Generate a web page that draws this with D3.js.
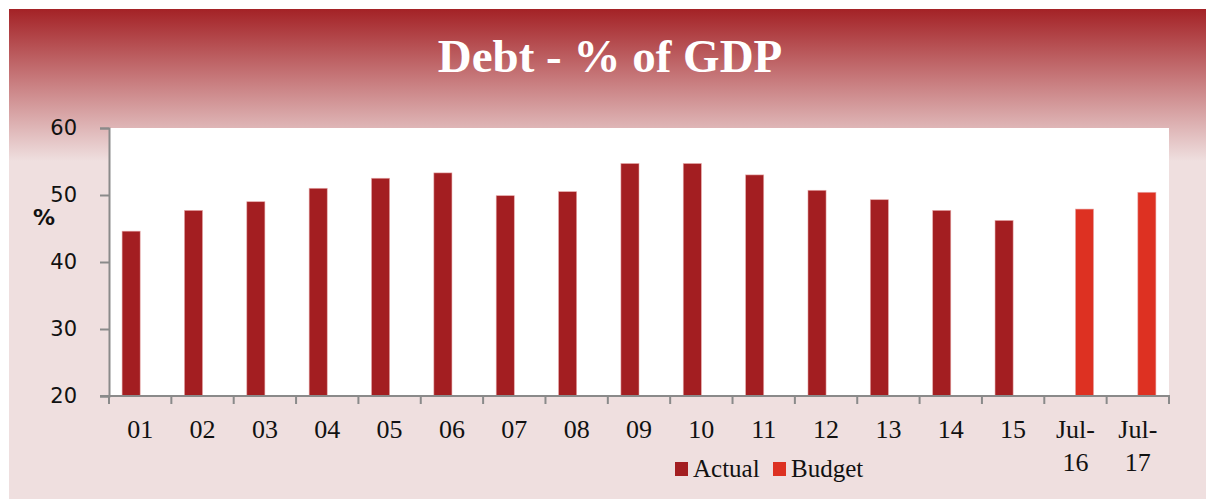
<!DOCTYPE html>
<html>
<head>
<meta charset="utf-8">
<script src="https://cdn.jsdelivr.net/npm/d3@7"></script>
<style>
  html, body { margin: 0; padding: 0; background: #ffffff; }
  svg { display: block; }
</style>
</head>
<body>
<svg id="chart" width="1206" height="499"></svg>
<script>
const categories = ["01","02","03","04","05","06","07","08","09","10","11","12","13","14","15","Jul-16","Jul-17"];
const seriesNames = ["Actual","Budget"];
const actual = [44.6,47.7,49.0,51.0,52.5,53.3,49.9,50.5,54.7,54.7,53.0,50.7,49.3,47.7,46.2,null,null];
const budget = [null,null,null,null,null,null,null,null,null,null,null,null,null,null,null,47.9,50.4];
const yTicks = [20,30,40,50,60];
const colors = {Actual: "#a31e21", Budget: "#dd3122"};

const svg = d3.select("#chart");
const W = 1206, H = 499;

const defs = svg.append("defs");
const grad = defs.append("linearGradient").attr("id","hdr")
  .attr("x1",0).attr("y1",0).attr("x2",0).attr("y2",1);
grad.append("stop").attr("offset","0%").attr("stop-color","#a42226");
grad.append("stop").attr("offset","100%").attr("stop-color","#efdfdf");

svg.append("rect").attr("x",9).attr("y",9).attr("width",W-9).attr("height",H-9).attr("fill","#efdfdf");
svg.append("rect").attr("x",9).attr("y",9).attr("width",W-9).attr("height",152).attr("fill","url(#hdr)");

svg.append("text").attr("x",610).attr("y",72).attr("text-anchor","middle")
  .attr("font-family","'Liberation Serif','DejaVu Serif',serif").attr("font-weight","bold")
  .attr("font-size",47).attr("fill","#ffffff").text("Debt - % of GDP");

const plot = {left:109, right:1169, top:128, bottom:396};
svg.append("rect").attr("x",plot.left).attr("y",plot.top)
  .attr("width",plot.right-plot.left).attr("height",plot.bottom-plot.top).attr("fill","#ffffff");

const x = d3.scaleBand().domain(categories).range([plot.left, plot.right]).paddingInner(0).paddingOuter(0);
const bw = x.bandwidth();
const x1 = d3.scaleBand().domain(seriesNames).range([bw*0.21, bw*0.79]).padding(0);
const y = d3.scaleLinear().domain([20,60]).range([plot.bottom, plot.top]);

const rows = categories.map((c,i)=>({cat:c, vals:[{s:"Actual",v:actual[i]},{s:"Budget",v:budget[i]}]}));
const g = svg.append("g");
rows.forEach(r=>{
  r.vals.forEach(d=>{
    if (d.v == null) return;
    g.append("rect")
      .attr("x", x(r.cat)+x1(d.s))
      .attr("y", y(d.v))
      .attr("width", x1.bandwidth())
      .attr("height", y(20)-y(d.v))
      .attr("fill", colors[d.s])
      .attr("stroke", "#e7a9a9")
      .attr("stroke-opacity", 0.8)
      .attr("stroke-width", 0.7);
  });
});

const axisColor = "#8a8a8a";
const yAxis = svg.append("g").attr("transform",`translate(${plot.left},0)`)
  .call(d3.axisLeft(y).tickValues(yTicks).tickSize(9).tickPadding(23));
yAxis.select(".domain").attr("stroke",axisColor).attr("stroke-width",2);
yAxis.selectAll(".tick line").attr("stroke",axisColor).attr("stroke-width",2);
yAxis.selectAll(".tick text").attr("font-family","'DejaVu Sans',sans-serif").attr("font-size",21).attr("fill","#111");

const boundaries = categories.map(c=>x(c)).concat([plot.right]);
const xg = svg.append("g");
xg.append("line").attr("x1",plot.left-9).attr("x2",plot.right+1).attr("y1",plot.bottom).attr("y2",plot.bottom)
  .attr("stroke",axisColor).attr("stroke-width",2);
xg.selectAll("line.t").data(boundaries).join("line").attr("class","t")
  .attr("x1",d=>d).attr("x2",d=>d).attr("y1",plot.bottom).attr("y2",plot.bottom+8)
  .attr("stroke",axisColor).attr("stroke-width",2);

const lbl = xg.selectAll("text.xl").data(categories).join("text").attr("class","xl")
  .attr("x",d=>x(d)+bw/2).attr("y",438).attr("text-anchor","middle")
  .attr("font-family","'Liberation Serif','DejaVu Serif',serif").attr("font-size",26).attr("fill","#111");
lbl.each(function(d){
  const parts = d.includes("-") ? [d.split("-")[0]+"-", d.split("-")[1]] : [d];
  const t = d3.select(this);
  parts.forEach((p,i)=>t.append("tspan").attr("x",x(d)+bw/2).attr("dy", i===0?0:33).text(p));
});

svg.append("text").attr("x",44).attr("y",225).attr("text-anchor","middle")
  .attr("font-family","'DejaVu Sans',sans-serif").attr("font-weight","bold").attr("font-size",22)
  .attr("fill","#111").text("%");

const legendItems = [{s:"Actual",x:675},{s:"Budget",x:773}];
legendItems.forEach(it=>{
  svg.append("rect").attr("x",it.x).attr("y",462).attr("width",13).attr("height",14).attr("fill",colors[it.s]);
  svg.append("text").attr("x",it.x+18).attr("y",477)
    .attr("font-family","'Liberation Serif','DejaVu Serif',serif").attr("font-size",25).attr("fill","#111").text(it.s);
});
</script>
</body>
</html>
